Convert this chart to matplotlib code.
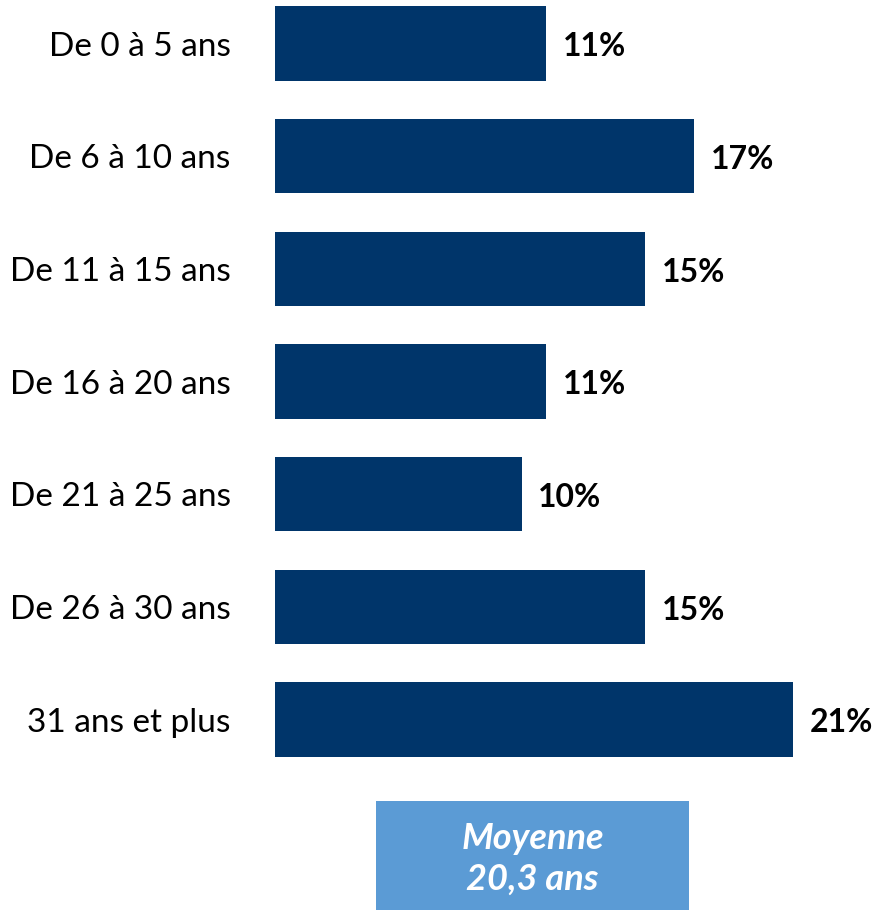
import matplotlib
matplotlib.use("Agg")
import matplotlib.pyplot as plt
from matplotlib.patches import Rectangle

categories = ["De 0 à 5 ans", "De 6 à 10 ans", "De 11 à 15 ans", "De 16 à 20 ans",
              "De 21 à 25 ans", "De 26 à 30 ans", "31 ans et plus"]
values = [11, 17, 15, 11, 10, 15, 21]
value_labels = ["11%", "17%", "15%", "11%", "10%", "15%", "21%"]
mean_text = "Moyenne\n20,3 ans"

W, H = 877, 910
fig = plt.figure(figsize=(W / 100, H / 100), dpi=100)
plt.rcParams['font.family'] = ['Lato', 'DejaVu Sans']

left_px, right_px = 275, 867
top_px, bot_px = 0, 775
ax = fig.add_axes([left_px / W, 1 - bot_px / H, (right_px - left_px) / W, (bot_px - top_px) / H])

bar_color = "#00356A"
pos = list(range(len(categories)))
ax.barh(pos, values, height=0.66, color=bar_color)
ax.set_xlim(0, 24)
spacing = 112.67
ax.set_ylim((bot_px - 43.5) / spacing, -43.5 / spacing)

for p, v, lab in zip(pos, values, value_labels):
    ax.annotate(lab, xy=(v, p), xytext=(12, -2.5), textcoords="offset points",
                va="center", ha="left", fontsize=23, fontweight="bold", color="black")

ax.set_yticks(pos)
ax.set_yticklabels(categories, fontsize=24, color="black")
ax.tick_params(axis="y", length=0, pad=32)
ax.set_xticks([])
for s in ax.spines.values():
    s.set_visible(False)

bx0, bx1, by0, by1 = 376, 689, 801, 910
fig.add_artist(Rectangle((bx0 / W, 1 - by1 / H), (bx1 - bx0) / W, (by1 - by0) / H,
                         transform=fig.transFigure, facecolor="#5B9BD5", edgecolor="none"))
fig.text((bx0 + bx1) / 2 / W, 1 - (by0 + by1 + 6) / 2 / H, mean_text, ha="center", va="center",
         fontsize=26, fontweight="bold", fontstyle="italic", color="white", linespacing=1.28)

fig.savefig("out.png", dpi=100)
